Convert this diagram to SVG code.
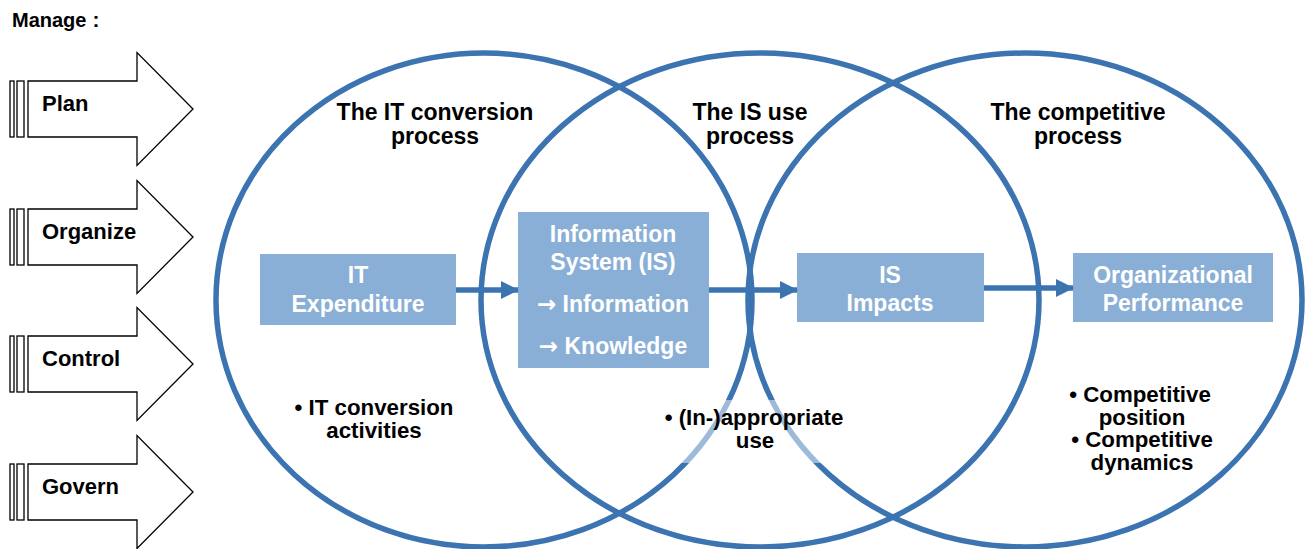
<svg xmlns="http://www.w3.org/2000/svg" width="1309" height="549" viewBox="0 0 1309 549">
  <style>
    .circ { fill: none; stroke: #3B74B0; stroke-width: 5.5; }
    .box { fill: #8AAFD6; }
    .boxtxt { font-family: "Liberation Sans", Arial, sans-serif; font-weight: bold; font-size: 23px; fill: #FFFFFF; text-anchor: middle; }
    .sym { font-family: "DejaVu Sans", sans-serif; font-weight: bold; }
    .title { font-family: "Liberation Sans", Arial, sans-serif; font-weight: bold; font-size: 23px; fill: #000000; text-anchor: middle; }
    .bullet { font-family: "Liberation Sans", Arial, sans-serif; font-weight: bold; font-size: 22.3px; fill: #000000; text-anchor: middle; }
    .arrtxt { font-family: "Liberation Sans", Arial, sans-serif; font-weight: bold; font-size: 22px; fill: #000000; }
    .blk { fill: #FFFFFF; stroke: #000000; stroke-width: 1.3; }
    .conn { stroke: #3B74B0; stroke-width: 5.5; fill: none; }
  </style>
  <defs>
    <marker id="ah" markerUnits="userSpaceOnUse" markerWidth="18" markerHeight="18" viewBox="0 0 18 18" refX="17" refY="9" orient="auto">
      <path d="M0,0 L18,9 L0,18 Z" fill="#3B74B0"/>
    </marker>
    <g id="blockArrow">
      <rect class="blk" x="10" y="-28" width="4" height="56"/>
      <rect class="blk" x="17" y="-28" width="7" height="56"/>
      <path class="blk" d="M28,-28 H137 V-56.5 L193,0 L137,56.5 V28 H28 Z"/>
    </g>
  </defs>
  <rect width="1309" height="549" fill="#FFFFFF"/>

  <text x="12" y="27" font-family="Liberation Sans, Arial, sans-serif" font-weight="bold" font-size="20">Manage<tspan dx="6" font-size="21">:</tspan></text>

  <g id="manage-plan">
    <use href="#blockArrow" transform="translate(0,109)"/>
    <text class="arrtxt" x="42" y="111">Plan</text>
  </g>
  <g id="manage-organize">
    <use href="#blockArrow" transform="translate(0,237)"/>
    <text class="arrtxt" x="42" y="239">Organize</text>
  </g>
  <g id="manage-control">
    <use href="#blockArrow" transform="translate(0,364)"/>
    <text class="arrtxt" x="42" y="366">Control</text>
  </g>
  <g id="manage-govern">
    <use href="#blockArrow" transform="translate(0,492)"/>
    <text class="arrtxt" x="42" y="494">Govern</text>
  </g>

  <g id="it-conversion-process">
    <ellipse class="circ" cx="484" cy="300" rx="268" ry="247"/>
    <text class="title" x="435" y="120">The IT conversion</text>
    <text class="title" x="435" y="144">process</text>
  </g>
  <g id="is-use-process">
    <ellipse class="circ" cx="760" cy="300" rx="279" ry="247"/>
    <text class="title" x="750" y="120">The IS use</text>
    <text class="title" x="750" y="144">process</text>
  </g>
  <g id="competitive-process">
    <ellipse class="circ" cx="1025" cy="300" rx="277" ry="247"/>
    <text class="title" x="1078" y="120">The competitive</text>
    <text class="title" x="1078" y="144">process</text>
  </g>

  <g id="it-expenditure">
    <rect class="box" x="260" y="254" width="196" height="71"/>
    <text class="boxtxt" x="358" y="283">IT</text>
    <text class="boxtxt" x="358" y="312">Expenditure</text>
  </g>
  <g id="information-system">
    <rect class="box" x="518" y="212" width="191" height="156"/>
    <text class="boxtxt" x="613" y="242">Information</text>
    <text class="boxtxt" x="613" y="270">System (IS)</text>
    <text class="boxtxt" x="613" y="312"><tspan class="sym">→</tspan> Information</text>
    <text class="boxtxt" x="613" y="354"><tspan class="sym">→</tspan> Knowledge</text>
  </g>
  <g id="is-impacts">
    <rect class="box" x="797" y="253" width="187" height="69"/>
    <text class="boxtxt" x="890" y="283">IS</text>
    <text class="boxtxt" x="890" y="311">Impacts</text>
  </g>
  <g id="organizational-performance">
    <rect class="box" x="1073" y="253" width="200" height="69"/>
    <text class="boxtxt" x="1173" y="283">Organizational</text>
    <text class="boxtxt" x="1173" y="311">Performance</text>
  </g>

  <g id="connectors">
    <line class="conn" x1="456" y1="290" x2="518" y2="290" marker-end="url(#ah)"/>
    <line class="conn" x1="709" y1="290" x2="797" y2="290" marker-end="url(#ah)"/>
    <line class="conn" x1="984" y1="288" x2="1073" y2="288" marker-end="url(#ah)"/>
  </g>

  <g id="it-conversion-activities">
    <text class="bullet" x="374" y="415">• IT conversion</text>
    <text class="bullet" x="374" y="438">activities</text>
  </g>
  <g id="appropriate-use">
    <rect x="650" y="400" width="210" height="63" fill="#FFFFFF" fill-opacity="0.5"/>
    <text class="bullet" x="754" y="425">• (In-)appropriate</text>
    <text class="bullet" x="755" y="448">use</text>
  </g>
  <g id="competitive-bullets">
    <text class="bullet" x="1140" y="402">• Competitive</text>
    <text class="bullet" x="1142" y="424.5">position</text>
    <text class="bullet" x="1142" y="447">• Competitive</text>
    <text class="bullet" x="1142" y="469.5">dynamics</text>
  </g>
</svg>
